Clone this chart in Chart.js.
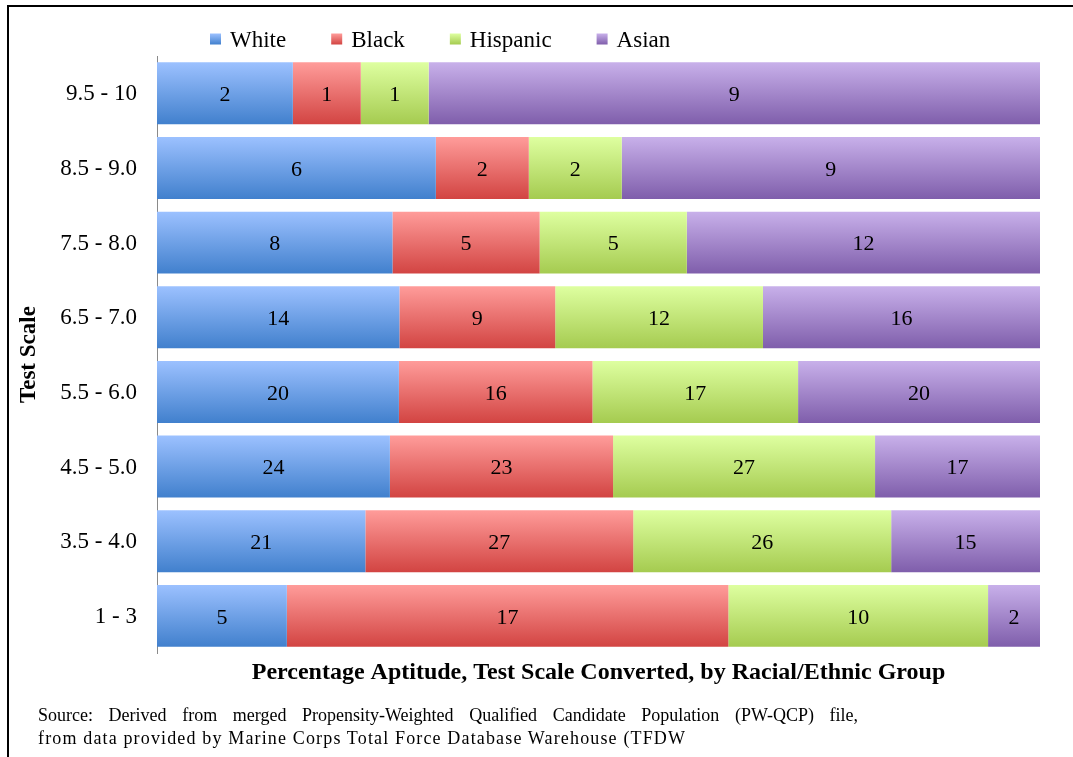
<!DOCTYPE html>
<html>
<head>
<meta charset="utf-8">
<script src="https://cdn.jsdelivr.net/npm/chart.js@4"></script>
<style>
  html, body { margin: 0; padding: 0; background: #fff; overflow: hidden; width: 1073px; height: 757px; }
  #wrap { position: relative; width: 1073px; height: 757px; }
  #frame { position: absolute; left: 7px; top: 5px; width: 1200px; height: 900px; border-left: 2px solid #000; border-top: 2px solid #000; }
  canvas { position: absolute; left: 0; top: 0; }
  .src { position: absolute; left: 38px; font-family: 'Liberation Serif', 'Times New Roman', serif; font-size: 18px; color: #000; white-space: nowrap; }
  #src1 { top: 705px; width: 820px; text-align: justify; text-align-last: justify; white-space: normal; }
  #src2 { top: 728px; letter-spacing: 1.15px; }
</style>
</head>
<body>
<div id="wrap">
  <div id="frame"></div>
  <canvas id="c" width="1073" height="757"></canvas>
  <div class="src" id="src1">Source: Derived from merged Propensity-Weighted Qualified Candidate Population (PW-QCP) file,</div>
  <div class="src" id="src2">from data provided by Marine Corps Total Force Database Warehouse (TFDW</div>
</div>
<script>
const categories = ['9.5 - 10', '8.5 - 9.0', '7.5 - 8.0', '6.5 - 7.0', '5.5 - 6.0', '4.5 - 5.0', '3.5 - 4.0', '1 - 3'];
const white    = [2, 6, 8, 14, 20, 24, 21, 5];
const black    = [1, 2, 5, 9, 16, 23, 27, 17];
const hispanic = [1, 2, 5, 12, 17, 27, 26, 10];
const asian    = [9, 9, 12, 16, 20, 17, 15, 2];
const seriesNames = ['White', 'Black', 'Hispanic', 'Asian'];
const xTitle = 'Percentage Aptitude, Test Scale Converted, by Racial/Ethnic Group';
const yTitle = 'Test Scale';

const FONT = "'Liberation Serif', 'Times New Roman', serif";
const gradStops = [
  ['#9CC1FF', '#4180CD'],
  ['#FF9C9A', '#D24442'],
  ['#DEFFA0', '#A5CB50'],
  ['#C8B0EA', '#7F5EAB']
];
const BAR_PCT = 0.83;

const raw = [white, black, hispanic, asian];
const totals = categories.map((_, i) => raw.reduce((s, arr) => s + arr[i], 0));

function gradFor(idx) {
  return function(ctx) {
    const chart = ctx.chart;
    const area = chart.chartArea;
    const ys = chart.scales.y;
    if (!area || !ys) return gradStops[idx][1];
    const yc = ys.getPixelForValue(ctx.dataIndex);
    const h = (area.bottom - area.top) / categories.length * BAR_PCT;
    const g = chart.ctx.createLinearGradient(0, yc - h / 2, 0, yc + h / 2);
    g.addColorStop(0, gradStops[idx][0]);
    g.addColorStop(1, gradStops[idx][1]);
    return g;
  };
}

const datasets = raw.map((arr, idx) => ({
  label: seriesNames[idx],
  data: arr.map((v, i) => v / totals[i] * 100),
  rawValues: arr,
  backgroundColor: gradFor(idx),
  borderWidth: 0,
  categoryPercentage: 1,
  barPercentage: BAR_PCT
}));

const valueLabels = {
  id: 'valueLabels',
  afterDatasetsDraw(chart) {
    const ctx = chart.ctx;
    ctx.save();
    ctx.font = '22px ' + FONT;
    ctx.fillStyle = '#000';
    ctx.textAlign = 'center';
    ctx.textBaseline = 'middle';
    chart.data.datasets.forEach((ds, di) => {
      const meta = chart.getDatasetMeta(di);
      meta.data.forEach((el, i) => {
        const x = (el.x + el.base) / 2;
        ctx.fillText(String(ds.rawValues[i]), x, el.y + 2);
      });
    });
    ctx.restore();
  }
};

const customLegend = {
  id: 'customLegend',
  afterDraw(chart) {
    const ctx = chart.ctx;
    ctx.save();
    ctx.font = '23px ' + FONT;
    ctx.textBaseline = 'middle';
    ctx.textAlign = 'left';
    let x = 210;
    const yc = 39;
    const box = 11;
    chart.data.datasets.forEach((ds, di) => {
      const g = ctx.createLinearGradient(0, yc - box / 2, 0, yc + box / 2);
      g.addColorStop(0, gradStops[di][0]);
      g.addColorStop(1, gradStops[di][1]);
      ctx.fillStyle = g;
      ctx.fillRect(x, yc - box / 2, box, box);
      ctx.fillStyle = '#000';
      const tx = x + box + 9;
      ctx.fillText(ds.label, tx, yc + 2);
      x = tx + ctx.measureText(ds.label).width + 45;
    });
    ctx.restore();
  }
};

new Chart(document.getElementById('c'), {
  type: 'bar',
  data: { labels: categories, datasets },
  options: {
    indexAxis: 'y',
    responsive: false,
    animation: false,
    events: [],
    layout: { padding: { left: 10, top: 56, right: 33, bottom: 70 } },
    plugins: { legend: { display: false }, tooltip: { enabled: false } },
    scales: {
      x: {
        stacked: true,
        min: 0, max: 100,
        ticks: { display: false },
        grid: { display: false, drawTicks: false },
        border: { display: false },
        title: {
          display: true, text: xTitle, color: '#000',
          font: { family: FONT, size: 24, weight: 'bold' },
          padding: { top: 5, bottom: 0 }
        }
      },
      y: {
        stacked: true,
        afterFit(scale) { scale.width = 147; },
        ticks: { color: '#000', font: { family: FONT, size: 23 }, padding: 20, labelOffset: 1 },
        grid: { display: false, drawTicks: false },
        border: { display: true, color: '#8a8a8a', width: 1 },
        title: {
          display: true, text: yTitle, color: '#000',
          font: { family: FONT, size: 23, weight: 'bold' },
          padding: { top: 5, bottom: 0 }
        }
      }
    }
  },
  plugins: [valueLabels, customLegend]
});
</script>
</body>
</html>
